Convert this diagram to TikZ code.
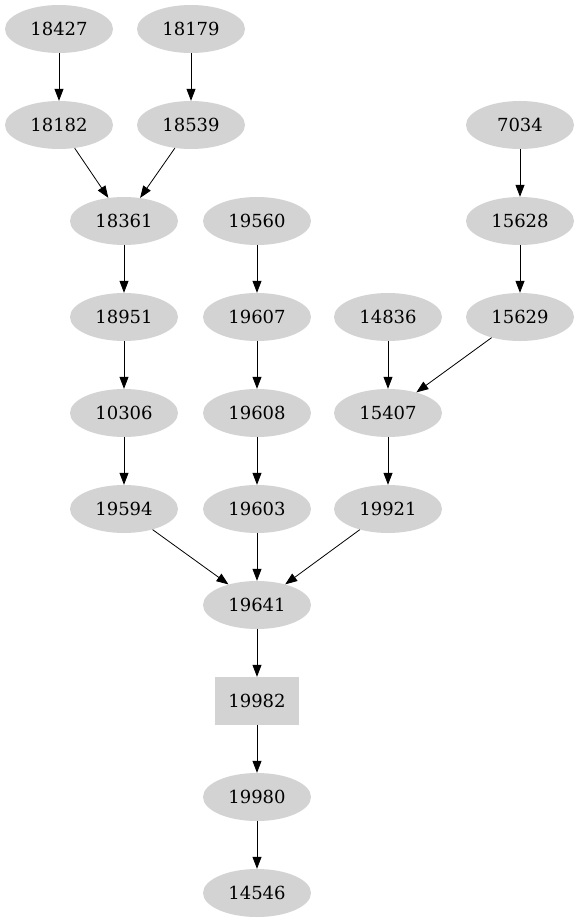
\documentclass[tikz,border=0pt]{standalone}
\usepackage{fontspec}
\setmainfont{DejaVu Serif}
\usetikzlibrary{arrows.meta,shapes.geometric}
\definecolor{vtxgray}{RGB}{211,211,211}

\begin{document}
\begin{tikzpicture}[x=1pt,y=-1pt,
		vtx/.style={ellipse,fill=vtxgray,minimum width=108pt,minimum height=48pt,inner sep=0pt,font=\fontsize{18}{20}\selectfont},
		boxvtx/.style={rectangle,fill=vtxgray,minimum width=84pt,minimum height=48pt,inner sep=0pt,font=\fontsize{18}{20}\selectfont},
		edg/.style={-{Triangle[length=12pt,width=9pt]},line width=0.8pt}]
			\useasboundingbox (0,0) rectangle (579,923);
			\node[vtx] (A) at (59,29) {18427};
			\node[vtx] (B) at (191,29) {18179};
			\node[vtx] (C) at (59,125) {18182};
			\node[vtx] (D) at (191,125) {18539};
			\node[vtx] (E) at (520,125) {7034};
			\node[vtx] (F) at (124,221) {18361};
			\node[vtx] (G) at (257,221) {19560};
			\node[vtx] (H) at (520,221) {15628};
			\node[vtx] (I) at (124,317) {18951};
			\node[vtx] (J) at (257,317) {19607};
			\node[vtx] (K) at (388,317) {14836};
			\node[vtx] (L) at (520,317) {15629};
			\node[vtx] (M) at (124,413) {10306};
			\node[vtx] (N) at (257,413) {19608};
			\node[vtx] (O) at (388,413) {15407};
			\node[vtx] (P) at (124,509) {19594};
			\node[vtx] (Q) at (257,509) {19603};
			\node[vtx] (R) at (388,509) {19921};
			\node[vtx] (S) at (257,605) {19641};
			\node[boxvtx] (T) at (257,701) {19982};
			\node[vtx] (U) at (257,797) {19980};
			\node[vtx] (V) at (257,893) {14546};
			\draw[edg] (A) -- (C);
			\draw[edg] (B) -- (D);
			\draw[edg] (C) -- (F);
			\draw[edg] (D) -- (F);
			\draw[edg] (E) -- (H);
			\draw[edg] (H) -- (L);
			\draw[edg] (F) -- (I);
			\draw[edg] (G) -- (J);
			\draw[edg] (I) -- (M);
			\draw[edg] (J) -- (N);
			\draw[edg] (K) -- (O);
			\draw[edg] (L) -- (O);
			\draw[edg] (M) -- (P);
			\draw[edg] (N) -- (Q);
			\draw[edg] (O) -- (R);
			\draw[edg] (P) -- (S);
			\draw[edg] (Q) -- (S);
			\draw[edg] (R) -- (S);
			\draw[edg] (S) -- (T);
			\draw[edg] (T) -- (U);
			\draw[edg] (U) -- (V);
		\end{tikzpicture}
\end{document}
